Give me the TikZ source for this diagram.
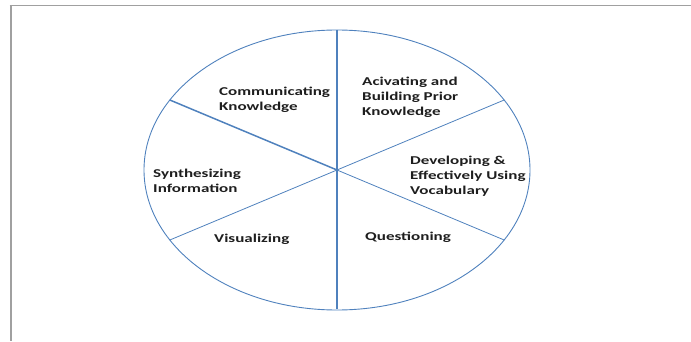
\documentclass[tikz,border=0pt]{standalone}
\usepackage{fontspec}
\setmainfont[FakeStretch=1.42]{Carlito}
\usepackage{tikz}
\definecolor{wheelblue}{RGB}{79,129,189}
\definecolor{framegray}{RGB}{160,160,160}
\definecolor{inkgray}{RGB}{30,30,30}

\begin{document}
\begin{tikzpicture}[x=1pt,y=1pt,
    seg/.style={anchor=west,align=left,inner sep=0pt,text=inkgray,
      font=\bfseries\fontsize{12}{15}\selectfont},
    rim/.style={draw=wheelblue,line width=.9pt},
    spoke/.style={draw=wheelblue,line width=.8pt}]
  \useasboundingbox (0,0) rectangle (691,341);
  \draw[framegray,line width=1pt] (9.5,335.5) -- (691,335.5);
  \draw[framegray,line width=2pt] (10.5,336) -- (10.5,0);
  \begin{scope}[shift={(337,171)}]
  \coordinate (c) at (0,0);
  \coordinate (n) at (90:193 and 140);
  \coordinate (s) at (270:193 and 139);
  \coordinate (ne) at (30:193 and 140);
  \coordinate (nw) at (150:193 and 140);
  \coordinate (sw) at (210:193 and 140);
  \coordinate (se) at (330:193 and 140);
  \draw[rim] (c) ellipse [x radius=193,y radius=140];
  \path[spoke]
    (c) edge (ne)
    (c) edge (sw)
    (c) edge (se);
  \path[spoke,line width=1.5pt]
    (n) edge (s)
    (c) edge (nw);
  \end{scope}
  \node[seg] (comm) at (219,241.5) {Communicating\\Knowledge};
  \node[seg] (act) at (362,244) {Acivating and\\Building Prior\\Knowledge};
  \node[seg] (dev) at (410,165) {Developing \&\\Effectively Using\\Vocabulary};
  \node[seg] (syn) at (153,160.5) {Synthesizing\\Information};
  \node[seg] (vis) at (214,102) {Visualizing};
  \node[seg] (que) at (365,104) {Questioning};
\end{tikzpicture}
\end{document}
